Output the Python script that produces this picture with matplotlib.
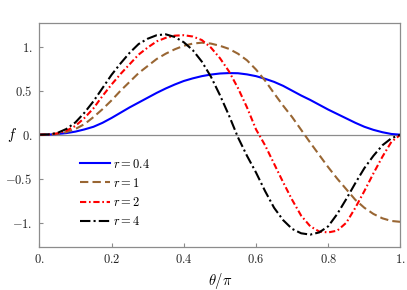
import matplotlib
matplotlib.use('Agg')

import matplotlib.pyplot as plt
from matplotlib.ticker import FuncFormatter

# theta / pi samples
theta = [0.0, 0.025, 0.05, 0.075, 0.1, 0.125, 0.15, 0.175, 0.2, 0.225,
         0.25, 0.275, 0.3, 0.325, 0.35, 0.375, 0.4, 0.425, 0.45, 0.475,
         0.5, 0.525, 0.55, 0.575, 0.6, 0.625, 0.65, 0.675, 0.7, 0.725,
         0.75, 0.775, 0.8, 0.825, 0.85, 0.875, 0.9, 0.925, 0.95, 0.975, 1.0]

f_r04 = [0.0, 0.001, 0.008, 0.018, 0.035, 0.06, 0.09, 0.135, 0.19, 0.25,
         0.31, 0.365, 0.42, 0.475, 0.525, 0.57, 0.61, 0.64, 0.665, 0.683,
         0.695, 0.70, 0.698, 0.685, 0.665, 0.635, 0.60, 0.555, 0.50, 0.445,
         0.395, 0.34, 0.285, 0.235, 0.185, 0.135, 0.09, 0.055, 0.028, 0.008, 0.0]

f_r1 = [0.0, 0.002, 0.01, 0.03, 0.065, 0.12, 0.2, 0.29, 0.39, 0.5,
        0.6, 0.7, 0.78, 0.86, 0.92, 0.97, 1.01, 1.035, 1.045, 1.035,
        1.01, 0.975, 0.92, 0.845, 0.74, 0.615, 0.47, 0.33, 0.20, 0.055,
        -0.09, -0.23, -0.37, -0.50, -0.62, -0.74, -0.83, -0.90, -0.95, -0.98, -0.99]

f_r2 = [0.0, 0.002, 0.015, 0.045, 0.1, 0.19, 0.3, 0.44, 0.57, 0.69,
        0.8, 0.91, 0.99, 1.06, 1.10, 1.125, 1.13, 1.115, 1.075, 0.99,
        0.87, 0.72, 0.53, 0.31, 0.06, -0.12, -0.33, -0.54, -0.74, -0.92,
        -1.04, -1.10, -1.11, -1.09, -1.0, -0.83, -0.64, -0.44, -0.25, -0.08, 0.0]

f_r4 = [0.0, 0.003, 0.02, 0.065, 0.14, 0.25, 0.38, 0.53, 0.68, 0.81,
        0.93, 1.03, 1.09, 1.13, 1.14, 1.11, 1.05, 0.96, 0.83, 0.66,
        0.45, 0.22, -0.03, -0.24, -0.43, -0.64, -0.83, -0.97, -1.07, -1.12,
        -1.135, -1.11, -1.04, -0.90, -0.73, -0.55, -0.38, -0.24, -0.12, -0.04, 0.0]

labels = [r'$r=0.4$', r'$r=1$', r'$r=2$', r'$r=4$']
xticks = [0, 0.2, 0.4, 0.6, 0.8, 1.0]
yticks = [-1.0, -0.5, 0.0, 0.5, 1.0]

plt.rcParams['mathtext.fontset'] = 'cm'
plt.rcParams['font.family'] = 'serif'
plt.rcParams['font.serif'] = ['DejaVu Serif']

fig = plt.figure(figsize=(4.07, 2.90), dpi=100)
ax = fig.add_axes([0.0966, 0.150, 0.8874, 0.772])

frame_col = '#8c8c8c'
ax.axhline(0, color=frame_col, lw=0.9, zorder=1)

ax.plot(theta, f_r04, color='#0000ff', lw=1.5, label=labels[0])
ax.plot(theta, f_r1, color='#996633', lw=1.5, dashes=(4.0, 2.0), label=labels[1])
ax.plot(theta, f_r2, color='#ff0000', lw=1.5, dashes=(3.0, 1.3, 0.8, 1.3), label=labels[2])
ax.plot(theta, f_r4, color='#000000', lw=1.5, dashes=(5.0, 1.5, 1.0, 1.5), label=labels[3])

ax.set_xlim(0, 1)
ax.set_ylim(-1.27, 1.273)

def fmt(v, pos):
    s = f'{v:.1f}'
    if s.endswith('.0'):
        s = s[:-1]
    if s == '-0.':
        s = '0.'
    return '$' + s + '$'

ax.set_xticks(xticks)
ax.set_yticks(yticks)
ax.xaxis.set_major_formatter(FuncFormatter(fmt))
ax.yaxis.set_major_formatter(FuncFormatter(fmt))
ax.tick_params(direction='in', length=3, width=0.8, color=frame_col,
               labelsize=9, labelcolor='#222222', pad=5)

for sp in ax.spines.values():
    sp.set_color(frame_col)
    sp.set_linewidth(0.9)

ax.set_xlabel(r'$\theta/\pi$', fontsize=10.5, labelpad=3)
ax.set_ylabel(r'$f$', fontsize=10.5, rotation=0, va='center', ha='center')
ax.yaxis.set_label_coords(-0.075, 0.5)

ax.legend(loc='upper left', bbox_to_anchor=(0.112, 0.397), frameon=False,
          fontsize=9, handlelength=2.4, handletextpad=0.25, labelspacing=0.5,
          borderaxespad=0, borderpad=0)

fig.savefig('out.png', dpi=100)
